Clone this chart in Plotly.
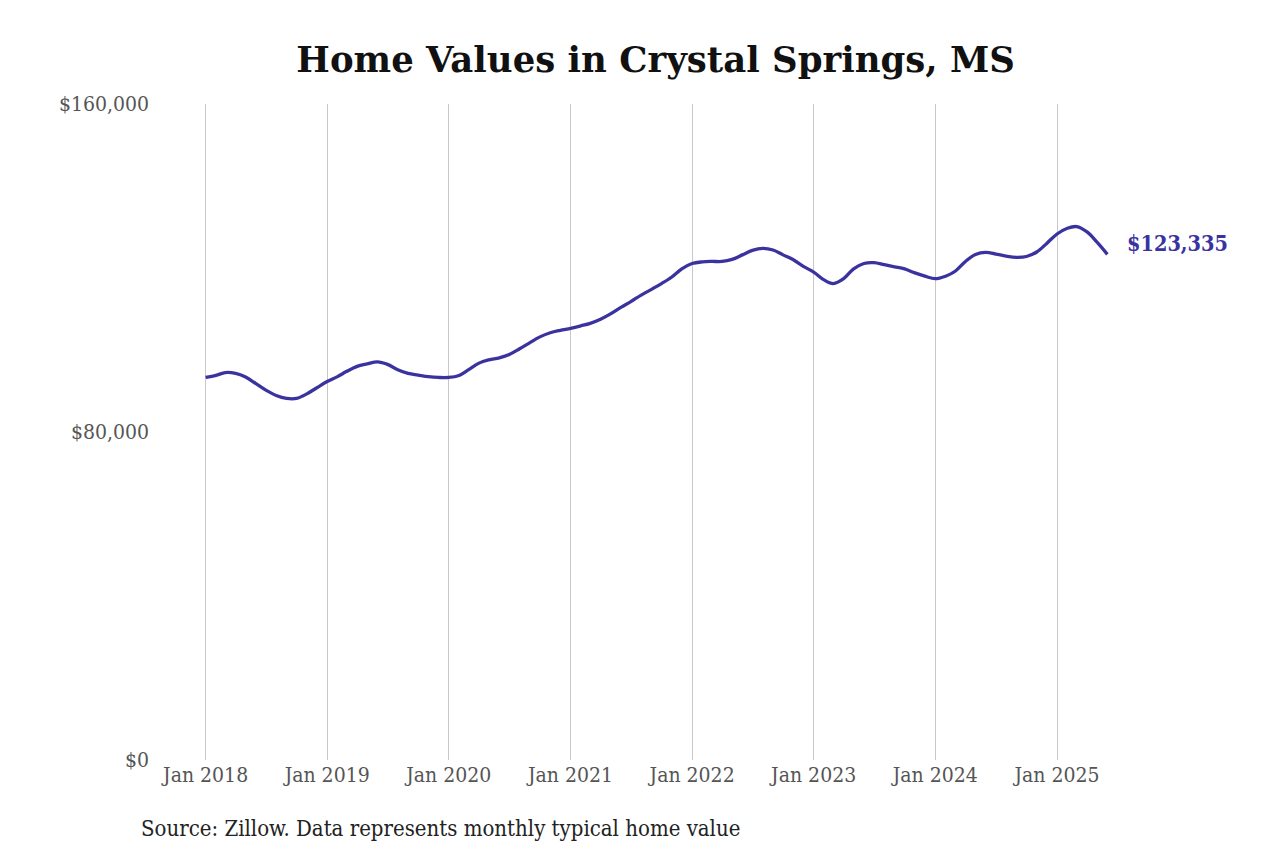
import pandas as pd
import plotly.graph_objects as go

# Valores mensuales (Jan 2018 - Jun 2025)
months = pd.date_range("2018-01-01", periods=90, freq="MS")
values = [
    93300, 93800, 94500, 94300, 93400, 91800, 90200, 88900, 88200, 88200, 89300, 90800,
    92300, 93500, 94800, 96000, 96600, 97100, 96500, 95200, 94300, 93900, 93500, 93300,
    93300, 93800, 95200, 96800, 97600, 98100, 98900, 100300, 101800, 103200, 104200, 104800,
    105300, 105900, 106500, 107500, 108800, 110400, 111800, 113400, 114800, 116200, 117800, 119800,
    121100, 121500, 121600, 121600, 122100, 123200, 124300, 124800, 124400, 123200, 122000, 120400,
    119000, 117100, 116200, 117400, 119800, 121100, 121300, 120800, 120300, 119800, 118800, 118000,
    117400, 118000, 119200, 121600, 123300, 123800, 123400, 122900, 122600, 122800, 123900, 126000,
    128300, 129700, 130100, 128800, 126300, 123335,
]
tick_dates = pd.date_range("2018-01-01", periods=8, freq="12MS")
tick_labels = [d.strftime("Jan %Y") for d in tick_dates]
y_ticks = [0, 80000, 160000]
y_labels = ["$0", "$80,000", "$160,000"]

line_color = "#3a339f"
serif = "DejaVu Serif Condensed, DejaVu Serif, serif"

fig = go.Figure()
fig.add_trace(go.Scatter(x=months, y=values, mode="lines",
                         line=dict(color=line_color, width=3.3, shape="spline"),
                         hoverinfo="skip", showlegend=False))

# Etiqueta del ultimo valor
fig.add_annotation(x=months[-1], y=values[-1], text=f"<b>${values[-1]:,}</b>",
                   showarrow=False, xanchor="left", xshift=18, yshift=11,
                   font=dict(family=serif, size=21.5, color=line_color))

# Fuente
fig.add_annotation(x=0.0, y=0.0, xref="paper", yref="paper", xanchor="left", yanchor="middle",
                   text="Source: Zillow. Data represents monthly typical home value",
                   showarrow=False, xshift=-21, yshift=-68,
                   font=dict(family=serif, size=22, color="#222"))

fig.update_layout(
    title=dict(text="<b>Home Values in Crystal Springs, MS</b>", x=0.506, y=0.939,
               xanchor="center", yanchor="middle",
               font=dict(family="DejaVu Serif, serif", size=35.5, color="#111")),
    width=1280, height=853,
    margin=dict(l=152, r=168, t=96, b=101),
    plot_bgcolor="white", paper_bgcolor="white",
    font=dict(family=serif, size=21, color="#555"),
)
fig.update_xaxes(range=["2017-08-17", "2025-07-09"], tickvals=tick_dates, ticktext=tick_labels,
                 showgrid=True, gridcolor="#c8c8c8", gridwidth=1, showline=False,
                 zeroline=False, ticks="")
fig.update_yaxes(range=[0, 160000], tickvals=y_ticks, ticktext=y_labels, showgrid=False,
                 zeroline=False, showline=False, ticks="", ticklabelstandoff=10)

fig.write_html("out.html")
